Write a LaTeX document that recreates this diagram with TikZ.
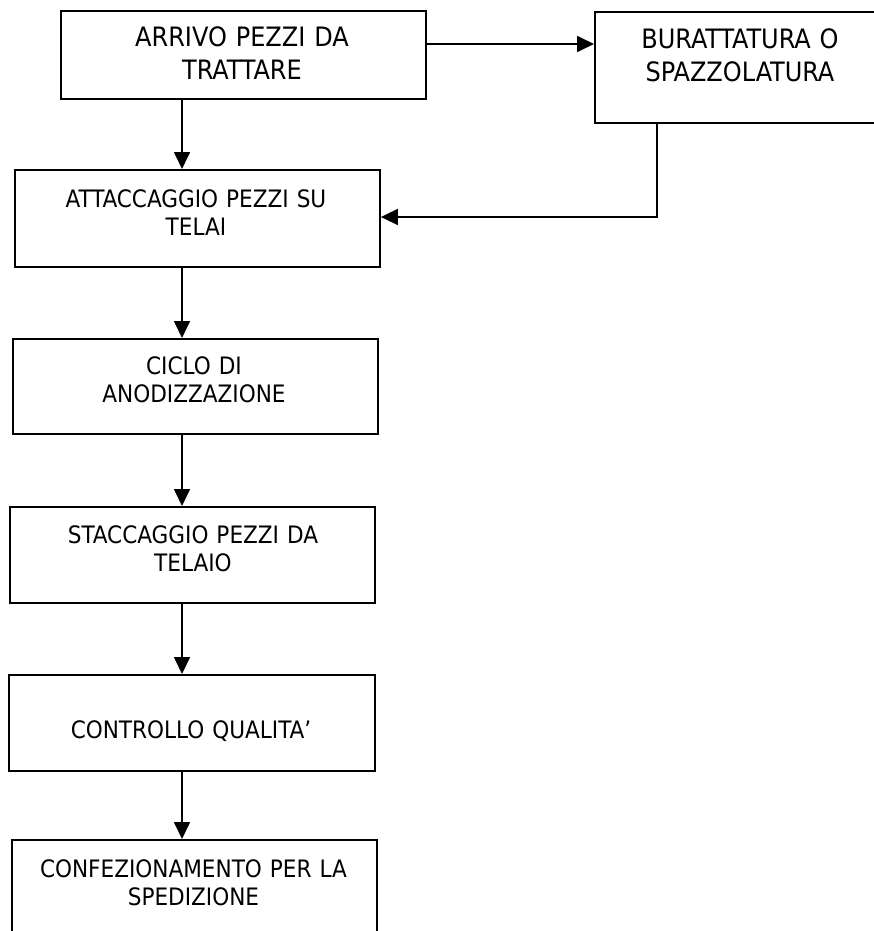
\documentclass[tikz,border=0pt]{standalone}
\usepackage{fontspec}
\newfontfamily\condfont{DejaVu Sans Condensed}
\usetikzlibrary{arrows.meta}
\tikzset{
  boxnode/.style={draw=black, line width=1.9pt, inner sep=0pt, anchor=north west, fill=white},
  arr/.style={line width=1.7pt, -{Triangle[length=17pt,width=16pt]}},
  bigtxt/.style={anchor=base, inner sep=0pt, text width=330pt, align=center,
    font=\condfont\fontsize{26.7pt}{33pt}\selectfont},
  smalltxt/.style={anchor=base, inner sep=0pt, text width=360pt, align=center,
    font=\condfont\fontsize{24pt}{28pt}\selectfont}
}
\begin{document}
\begin{tikzpicture}[x=1pt,y=-1pt]
\useasboundingbox (0,0) rectangle (874,931);
\clip (0,0) rectangle (874,931);
\fill[white] (0,0) rectangle (874,931);
% boxes
\node[boxnode, minimum width=365pt, minimum height=88pt] (b1) at (60,10) {};
\node[boxnode, minimum width=292pt, minimum height=111pt] (b2) at (594,11) {};
\node[boxnode, minimum width=365pt, minimum height=97pt] (b3) at (14,169) {};
\node[boxnode, minimum width=365pt, minimum height=95pt] (b4) at (12,338) {};
\node[boxnode, minimum width=365pt, minimum height=96pt] (b5) at (9,506) {};
\node[boxnode, minimum width=366pt, minimum height=96pt] (b6) at (8,674) {};
\node[boxnode, minimum width=365pt, minimum height=110pt] (b7) at (11,839) {};
% texts
\node[bigtxt] (t1) at (242,47) {ARRIVO PEZZI DA\\TRATTARE};
\node[bigtxt] (t2) at (740,49) {BURATTATURA O\\SPAZZOLATURA};
\node[smalltxt] (t3) at (196,207) {ATTACCAGGIO PEZZI SU\\TELAI};
\node[smalltxt] (t4) at (194,374) {CICLO DI\\ANODIZZAZIONE};
\node[smalltxt] (t5) at (193,543) {STACCAGGIO PEZZI DA\\TELAIO};
\node[smalltxt] (t6) at (191,738) {CONTROLLO QUALITA’};
\node[smalltxt] (t7) at (193.5,877) {CONFEZIONAMENTO PER LA\\SPEDIZIONE};
% helper coordinates
\coordinate (ax) at (182,0);
\coordinate (hy) at (0,44);
\coordinate (cx) at (657,0);
\coordinate (ry) at (0,217);
% connectors
\draw[arr] (b1.east |- hy) -- (b2.west |- hy);
\draw[arr] (b1.south -| ax) -- (b3.north -| ax);
\draw[arr] (b2.south -| cx) |- (b3.east |- ry);
\draw[arr] (b3.south -| ax) -- (b4.north -| ax);
\draw[arr] (b4.south -| ax) -- (b5.north -| ax);
\draw[arr] (b5.south -| ax) -- (b6.north -| ax);
\draw[arr] (b6.south -| ax) -- (b7.north -| ax);
\end{tikzpicture}
\end{document}
